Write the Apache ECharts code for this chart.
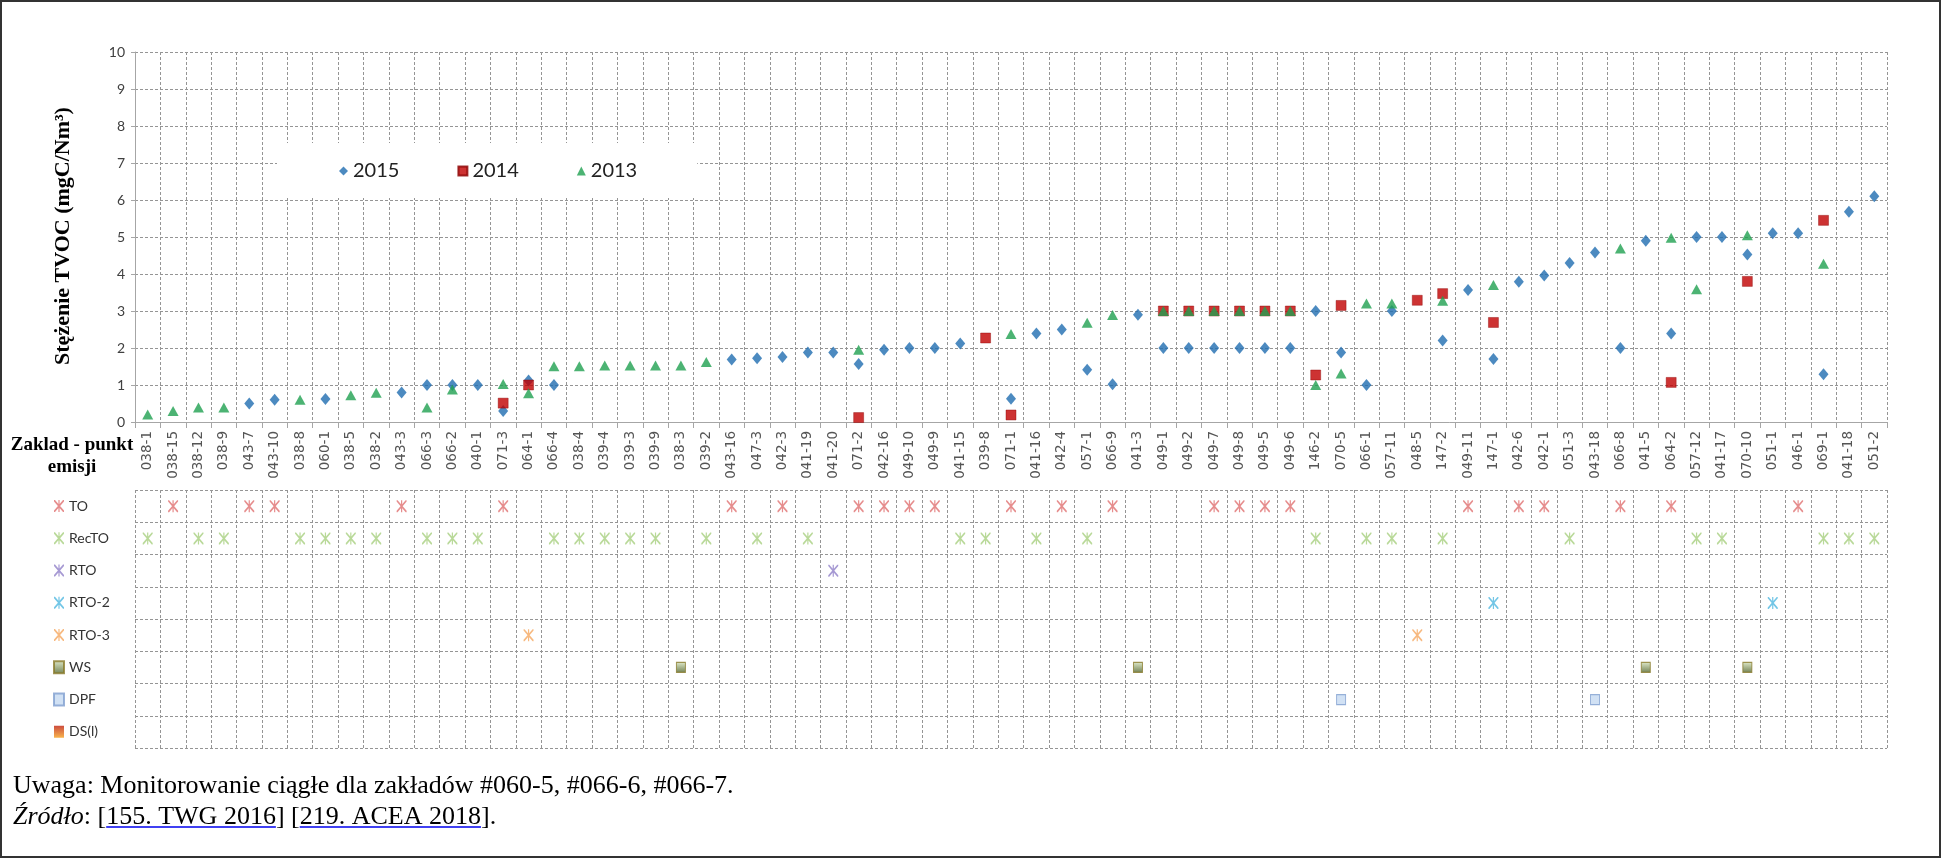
<!DOCTYPE html>
<html><head><meta charset="utf-8">
<script src="https://cdn.jsdelivr.net/npm/echarts@6/dist/echarts.min.js"></script>
<style>html,body{margin:0;padding:0;background:#fff}#c{width:1941px;height:858px}</style>
</head><body><div id="c"></div>
<script>
const categories = ['038-1','038-15','038-12','038-9','043-7','043-10','038-8','060-1','038-5','038-2',
  '043-3','066-3','066-2','040-1','071-3','064-1','066-4','038-4','039-4','039-3',
  '039-9','038-3','039-2','043-16','047-3','042-3','041-19','041-20','071-2','042-16',
  '049-10','049-9','041-15','039-8','071-1','041-16','042-4','057-1','066-9','041-3',
  '049-1','049-2','049-7','049-8','049-5','049-6','146-2','070-5','066-1','057-11',
  '048-5','147-2','049-11','147-1','042-6','042-1','051-3','043-18','066-8','041-5',
  '064-2','057-12','041-17','070-10','051-1','046-1','069-1','041-18','051-2'];

const yTicks = [0,1,2,3,4,5,6,7,8,9,10];

const v2015 = [null,null,null,null,0.5,0.6,null,0.62,null,null,
  0.8,1.0,1.0,1.0,0.3,1.12,1.0,null,null,null,
  null,null,null,1.69,1.72,1.76,1.88,1.88,1.57,1.95,
  2.0,2.0,2.12,null,0.63,2.39,2.5,1.41,1.02,2.9,
  2.0,2.0,2.0,2.0,2.0,2.0,3.0,1.88,1.0,3.0,
  null,2.2,3.57,1.7,3.79,3.96,4.3,4.58,2.0,4.9,
  2.39,5.0,5.0,4.53,5.1,5.1,1.29,5.68,6.1];

const v2014 = [null,null,null,null,null,null,null,null,null,null,
  null,null,null,null,0.51,1.0,null,null,null,null,
  null,null,null,null,null,null,null,null,0.12,null,
  null,null,null,2.27,0.19,null,null,null,null,null,
  3.0,3.0,3.0,3.0,3.0,3.0,1.27,3.15,null,null,
  3.29,3.47,null,2.69,null,null,null,null,null,null,
  1.07,null,null,3.8,null,null,5.45,null,null];

const v2013 = [0.2,0.3,0.39,0.39,null,null,0.6,null,0.72,0.79,
  null,0.39,0.88,null,1.03,0.78,1.51,1.51,1.53,1.53,
  1.53,1.53,1.62,null,null,null,null,null,1.95,null,
  null,null,null,null,2.38,null,null,2.68,2.89,null,
  3.0,3.0,3.0,3.0,3.0,3.0,1.0,1.31,3.2,3.2,
  null,3.28,null,3.7,null,null,null,null,4.69,null,
  4.98,3.59,null,5.05,null,null,4.28,null,null];

const techNames = ['TO','RecTO','RTO','RTO-2','RTO-3','WS','DPF','DS(l)'];
const techTO = ['038-15','043-7','043-10','043-3','071-3','043-16','042-3','071-2','042-16','049-10',
  '049-9','071-1','042-4','066-9','049-7','049-8','049-5','049-6','049-11','042-6','042-1','066-8','064-2','046-1'];
const techRecTO = ['038-1','038-12','038-9','038-8','060-1','038-5','038-2','066-3','066-2','040-1',
  '066-4','038-4','039-4','039-3','039-9','039-2','047-3','041-19','041-15','039-8','041-16','057-1',
  '146-2','066-1','057-11','147-2','051-3','057-12','041-17','069-1','041-18','051-2'];
const techRTO = ['041-20'];
const techRTO2 = ['147-1','051-1'];
const techRTO3 = ['064-1','048-5'];
const techWS = ['038-3','041-3','041-5','070-10'];
const techDPF = ['070-5','043-18'];
const techDSl = [];

const chart = echarts.init(document.getElementById('c'));
const gridStyle = {type:[3,2], color:'#959595', width:1};
const starPath = 'path://M44,0L56,0L56,120L44,120Z M0,0L10,0L100,106L100,120L90,120L0,14Z M90,0L100,0L100,14L10,120L0,120L0,106Z';

function techSeries(name, list, symbol, size, itemStyle) {
  return {name, type:'scatter', xAxisIndex:1, yAxisIndex:1, symbol, symbolSize:size,
    itemStyle, data: list.map(c => [c, name])};
}

const ctx = document.createElement('canvas').getContext('2d');
function tw(t, font){ ctx.font = font; return ctx.measureText(t).width; }
const FN = '26px "Liberation Serif"';
const FI = 'italic 26px "Liberation Serif"';
const fx = 13, fy2 = 817;
const u1s = fx + tw('Źródło', FI) + tw(': ', FN) + tw('[', FN);
const u1e = u1s + tw('155. TWG 2016', FN);
const u2s = u1e + tw(']', FN) + tw(' ', FN) + tw('[', FN);
const u2e = u2s + tw('219. ACEA 2018', FN);

const option = {
  backgroundColor:'#fff',
  animation:false,
  grid:[{left:135, top:52, width:1752, height:370},{left:135, top:490, width:1752, height:258}],
  xAxis:[
    {gridIndex:0, type:'category', data:categories, boundaryGap:true,
      axisLine:{lineStyle:{color:'#a6a6a6'}},
      axisTick:{show:true, length:6, interval:0, lineStyle:{color:'#a6a6a6'}},
      axisLabel:{interval:0, rotate:90, fontFamily:'DejaVu Sans', fontSize:13.5, color:'#555', margin:9},
      splitLine:{show:true, interval:0, lineStyle:gridStyle}},
    {gridIndex:1, type:'category', data:categories, boundaryGap:true,
      axisLine:{show:false}, axisTick:{show:false}, axisLabel:{show:false},
      splitLine:{show:true, interval:0, lineStyle:gridStyle}}
  ],
  yAxis:[
    {gridIndex:0, type:'value', min:yTicks[0], max:yTicks[yTicks.length-1], interval:1,
      axisLine:{show:true, lineStyle:{color:'#a6a6a6'}},
      axisTick:{show:true, length:4, lineStyle:{color:'#a6a6a6'}},
      axisLabel:{fontFamily:'Lato', fontSize:14, color:'#404040', margin:10},
      splitLine:{show:true, lineStyle:gridStyle}},
    {gridIndex:1, type:'category', data:techNames, inverse:true,
      axisLine:{show:false}, axisTick:{show:false}, axisLabel:{show:false},
      splitLine:{show:true, interval:0, lineStyle:gridStyle}}
  ],
  legend:[
    {data:['2015','2014','2013'], left:277, top:143, padding:[18,60,17,62], backgroundColor:'#fff',
      itemWidth:9, itemHeight:9, itemGap:58, selectedMode:false,
      textStyle:{fontFamily:'Lato', fontSize:20, color:'#222'}},
    {data:techNames, orient:'vertical', left:53, top:499, padding:0,
      itemWidth:10, itemHeight:12, itemGap:18.25, selectedMode:false,
      textStyle:{fontFamily:'Lato', fontSize:14, color:'#333', lineHeight:14}}
  ],
  series:[
    {name:'2015', type:'scatter', data:v2015, symbol:'diamond', symbolSize:[10,12],
      itemStyle:{color:'#1F6DB0'}, z:3},
    {name:'2014', type:'scatter', data:v2014, symbol:'rect', symbolSize:10,
      itemStyle:{color:'#C00000', borderColor:'#8B0000', borderWidth:0.5}, z:4},
    {name:'2013', type:'scatter', data:v2013, symbol:'triangle', symbolSize:[11,10],
      itemStyle:{color:'#1FA050'}, z:5},
    techSeries('TO', techTO, starPath, [10,12], {color:'#E07070'}),
    techSeries('RecTO', techRecTO, starPath, [10,12], {color:'#A8CF80'}),
    techSeries('RTO', techRTO, starPath, [10,12], {color:'#9080C8'}),
    techSeries('RTO-2', techRTO2, starPath, [10,12], {color:'#50B8E0'}),
    techSeries('RTO-3', techRTO3, starPath, [10,12], {color:'#F5A860'}),
    techSeries('WS', techWS, 'rect', [9,10], {color:{type:'linear',x:0,y:0,x2:0,y2:1,
      colorStops:[{offset:0,color:'#D7E4BD'},{offset:1,color:'#4F6228'}]}, borderColor:'#8A7A2A', borderWidth:1}),
    techSeries('DPF', techDPF, 'rect', [9,10], {color:'#C6D9F1', borderColor:'#7F9FCF', borderWidth:1}),
    techSeries('DS(l)', techDSl, 'rect', [9,10], {color:{type:'linear',x:0,y:0,x2:0,y2:1,
      colorStops:[{offset:0,color:'#C0200F'},{offset:1,color:'#F6A020'}]}})
  ],
  graphic:[
    {type:'rect', silent:true, shape:{x:1, y:1, width:1939, height:856},
      style:{fill:'none', stroke:'#333', lineWidth:2}},
    {type:'text', x:63, y:236, rotation:Math.PI/2,
      style:{text:'Stężenie TVOC (mgC/Nm³)', fontFamily:'Liberation Serif', fontWeight:'bold', fontSize:22,
        fill:'#000', align:'center', verticalAlign:'middle'}},
    {type:'text', x:72, y:456,
      style:{text:'Zaklad - punkt\nemisji', fontFamily:'Liberation Serif', fontWeight:'bold', fontSize:19,
        lineHeight:22, fill:'#000', align:'center', verticalAlign:'middle'}},
    {type:'text', x:fx, y:786,
      style:{text:'Uwaga: Monitorowanie ciągłe dla zakładów #060-5, #066-6, #066-7.', font:FN,
        fill:'#000', align:'left', verticalAlign:'middle'}},
    {type:'text', x:fx, y:fy2,
      style:{text:'{i|Źródło}{n|: }{a|[155. TWG 2016]}{n| }{a|[219. ACEA 2018]}{n|.}',
        align:'left', verticalAlign:'middle',
        rich:{
          i:{fontFamily:'Liberation Serif', fontSize:26, fontStyle:'italic', color:'#000'},
          n:{fontFamily:'Liberation Serif', fontSize:26, color:'#000'},
          a:{fontFamily:'Liberation Serif', fontSize:26, color:'#0000EE'}
        }}},
    {type:'line', shape:{x1:u1s, y1:fy2+10, x2:u1e, y2:fy2+10}, style:{stroke:'#0000EE', lineWidth:1.5}},
    {type:'line', shape:{x1:u2s, y1:fy2+10, x2:u2e, y2:fy2+10}, style:{stroke:'#0000EE', lineWidth:1.5}}
  ]
};
chart.setOption(option);
</script></body></html>
